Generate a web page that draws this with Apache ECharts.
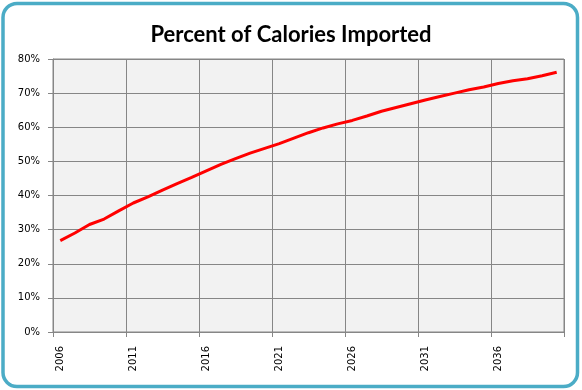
<!DOCTYPE html>
<html><head><meta charset="utf-8">
<script src="https://cdn.jsdelivr.net/npm/echarts@6/dist/echarts.min.js"></script>
<style>html,body{margin:0;padding:0;background:#fff}#c{width:582px;height:390px}</style>
</head><body><div id="c"></div>
<script>
const years = [];
for (let y = 2006; y <= 2040; y++) years.push(String(y));
const percentImported = [26.8, 29.0, 31.5, 33.1, 35.5, 37.8, 39.6, 41.6, 43.5, 45.3,
  47.2, 49.1, 50.8, 52.4, 53.8, 55.2, 56.8, 58.4, 59.8, 61.0,
  62.0, 63.3, 64.7, 65.8, 66.9, 68.0, 69.0, 70.0, 71.0, 71.8,
  72.8, 73.6, 74.2, 75.1, 76.1];
const titleText = 'Percent of Calories Imported';

const chart = echarts.init(document.getElementById('c'), null, {renderer: 'canvas'});
chart.setOption({
  animation: false,
  backgroundColor: '#fff',
  title: {
    text: titleText, left: 'center', top: 19,
    textStyle: {fontFamily: 'Lato', fontWeight: 'bold', fontSize: 22, color: '#000'}
  },
  graphic: [{
    type: 'rect', silent: true, z: 100,
    shape: {x: 3, y: 3.5, width: 574.5, height: 383, r: 14},
    style: {fill: 'none', stroke: '#4BACC6', lineWidth: 3.5}
  }],
  grid: {
    left: 53, right: 18, top: 59, bottom: 58,
    show: true, backgroundColor: '#F2F2F2', borderColor: '#868686', borderWidth: 1
  },
  xAxis: {
    type: 'category', data: years, boundaryGap: true,
    axisLine: {lineStyle: {color: '#868686', width: 1}},
    axisTick: {show: true, interval: 4, length: 5, lineStyle: {color: '#868686'}},
    axisLabel: {interval: 4, rotate: 90, margin: 14, fontFamily: 'DejaVu Sans', fontSize: 10, color: '#000'},
    splitLine: {show: true, interval: 4, lineStyle: {color: '#868686', width: 1}}
  },
  yAxis: {
    type: 'value', min: 0, max: 80, interval: 10,
    axisLine: {show: true, lineStyle: {color: '#868686', width: 1}},
    axisTick: {show: true, length: 5, lineStyle: {color: '#868686'}},
    axisLabel: {formatter: '{value}%', margin: 13, fontFamily: 'DejaVu Sans', fontSize: 10, color: '#000'},
    splitLine: {show: true, lineStyle: {color: '#868686', width: 1}}
  },
  series: [{
    type: 'line', data: percentImported, showSymbol: false, symbol: 'none',
    lineStyle: {color: '#FF0000', width: 3}, itemStyle: {color: '#FF0000'}
  }]
});
</script></body></html>
